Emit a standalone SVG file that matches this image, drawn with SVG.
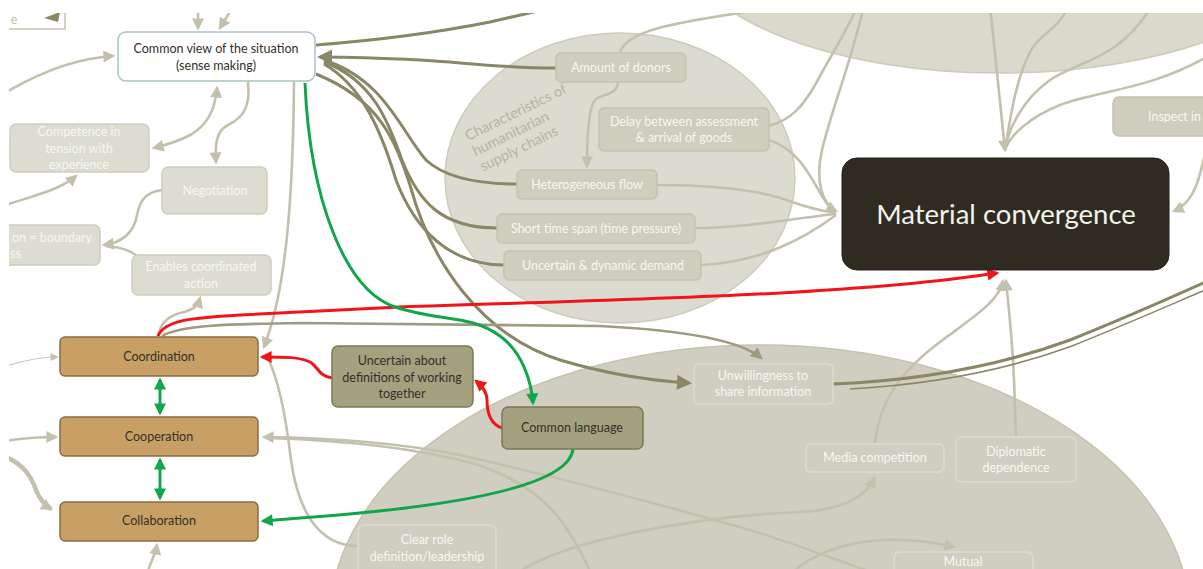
<svg xmlns="http://www.w3.org/2000/svg" width="1203" height="569" viewBox="0 0 1203 569">
  <defs>
    <clipPath id="frame"><rect x="9" y="13" width="1194" height="556"/></clipPath>
    <marker id="ah-lt" viewBox="0 0 10 10" refX="8" refY="5" markerWidth="13" markerHeight="12" markerUnits="userSpaceOnUse" orient="auto-start-reverse"><path d="M0,0 L10,5 L0,10 z" fill="#c3c1ad"/></marker>
    <marker id="ah-lt-s" viewBox="0 0 10 10" refX="8" refY="5" markerWidth="9" markerHeight="8" markerUnits="userSpaceOnUse" orient="auto"><path d="M0,0 L10,5 L0,10 z" fill="#c3c1ad"/></marker>
    <marker id="ah-dk" viewBox="0 0 10 10" refX="8" refY="5" markerWidth="17" markerHeight="15" markerUnits="userSpaceOnUse" orient="auto"><path d="M0,0 L10,5 L0,10 z" fill="#8a8766"/></marker>
    <marker id="ah-md" viewBox="0 0 10 10" refX="8" refY="5" markerWidth="14" markerHeight="12" markerUnits="userSpaceOnUse" orient="auto"><path d="M0,0 L10,5 L0,10 z" fill="#9e9b7f"/></marker>
    <marker id="ah-red" viewBox="0 0 10 10" refX="8" refY="5" markerWidth="14" markerHeight="12" markerUnits="userSpaceOnUse" orient="auto"><path d="M0,0 L10,5 L0,10 z" fill="#f2141a"/></marker>
    <marker id="ah-grn" viewBox="0 0 10 10" refX="8" refY="5" markerWidth="14" markerHeight="12" markerUnits="userSpaceOnUse" orient="auto-start-reverse"><path d="M0,0 L10,5 L0,10 z" fill="#12a64c"/></marker>
  </defs>
  <style>
    text { font-family: Lato, "Liberation Sans", sans-serif; font-size: 12.5px; text-anchor: middle; }
    .lt { fill: #dddcd1; stroke: #cfcdbf; stroke-width: 1.5; }
    .li { fill: #cfcdbd; stroke: #c4c2b0; stroke-width: 1.5; }
    .lb { fill: #d0cec0; stroke: #dcdbd0; stroke-width: 1.5; }
    .lt-t { fill: #f7f7f2; }
    .brown { fill: #c8a065; stroke: #8c6d3f; stroke-width: 1.5; }
    .olive { fill: #a4a17f; stroke: #7b7857; stroke-width: 1.5; }
    .dark-t { fill: #33302a; }
    .c-lt { fill: none; stroke: #c3c1ad; stroke-width: 2.6; }
    .c-dk { fill: none; stroke: #8a8766; stroke-width: 3; }
    .c-red { fill: none; stroke: #f2141a; stroke-width: 3; }
    .c-grn { fill: none; stroke: #12a64c; stroke-width: 3; }
    .cluster-t { text-anchor: start; font-size: 14.5px; }
  </style>
  <rect width="1203" height="569" fill="#ffffff"/>
  <g clip-path="url(#frame)">
    <!-- cluster backgrounds -->
    <g id="clusters">
      <ellipse cx="1000" cy="-60" rx="318" ry="133" fill="#dad9cc" stroke="#cdcbbb" stroke-width="1.5"/>
      <ellipse cx="620" cy="178" rx="175" ry="145" fill="#dcdbcf" stroke="#cdcbbb" stroke-width="1.5"/>
      <ellipse cx="760" cy="620" rx="430" ry="275" fill="#d0cec0" stroke="#c4c2b0" stroke-width="1.5"/>
      <g transform="translate(468,141) rotate(-26)" fill="#b6b49d">
        <text x="0" y="0" class="cluster-t">Characteristics of</text>
        <text x="0" y="17" class="cluster-t">humanitarian</text>
        <text x="0" y="34" class="cluster-t">supply chains</text>
      </g>
    </g>

    <!-- connectors -->
    <g id="connectors">
      <!-- light grey links -->
      <path class="c-lt" d="M198,5 L198,28" marker-end="url(#ah-lt)"/>
      <path class="c-lt" d="M234,5 L220,28" marker-end="url(#ah-lt)"/>
      <path class="c-lt" d="M3,94 C40,72 78,58 113,56" marker-end="url(#ah-lt)"/>
      <path class="c-lt" d="M217,88 C215,112 206,125 192,134 C178,142 166,145 154,148" marker-start="url(#ah-lt)" marker-end="url(#ah-lt)"/>
      <path class="c-lt" d="M248,82 C251,108 242,118 228,125 C216,131 215,145 216,162" marker-end="url(#ah-lt)"/>
      <path class="c-lt" d="M3,206 C32,196 60,190 76,176" marker-end="url(#ah-lt)"/>
      <path class="c-lt" d="M162,190 C146,192 140,200 137,215 C134,234 120,243 104,245" marker-end="url(#ah-lt)"/>
      <path class="c-lt" d="M137,256 C130,250 120,247 106,246"/>
      <path class="c-lt" d="M158,336 C161,321 170,315 184,312 C195,309 198,305 200,298" marker-end="url(#ah-lt)"/>
      <path class="c-lt" d="M294,82 C293,200 286,290 264,347" marker-end="url(#ah-lt)"/>
      <path class="c-lt" d="M358,546 C318,546 298,510 291,460 C285,410 278,378 266,354"/>
      <path class="c-lt" d="M880,575 C830,558 790,542 750,530 C680,510 560,478 460,455 C410,445 340,438 264,437" marker-end="url(#ah-lt)"/>
      <path class="c-lt" d="M592,575 C568,525 548,488 475,464 C410,446 330,440 268,438"/>
      <path class="c-lt" d="M3,441 C25,438 40,437 56,437" marker-end="url(#ah-lt)"/>
      <path fill="none" stroke="#c9c8b7" stroke-width="1.2" d="M3,367 C25,360 40,357 57,357" marker-end="url(#ah-lt-s)"/>
      <path fill="none" stroke="#c3c1ad" stroke-width="4.5" d="M3,456 C24,463 32,478 36,490 C40,500 46,506 51,509" marker-end="url(#ah-lt)"/>
      <path class="c-lt" d="M147,575 C150,562 155,556 157,545" marker-end="url(#ah-lt)"/>
      <path class="c-lt" d="M618,82 C618,95 601,94 595,100 C588,108 587,140 587,166" marker-end="url(#ah-lt)"/>
      <path class="c-lt" d="M620,53 C625,30 680,22 745,12"/>
      <path class="c-lt" d="M769,126 C790,120 802,108 815,85 C833,52 850,25 858,5"/>
      <path class="c-lt" d="M864,5 C852,60 832,108 822,150 C815,180 822,204 836,211" marker-end="url(#ah-lt)"/>
      <path class="c-lt" d="M769,140 C800,150 812,180 822,196 C827,204 830,209 836,212"/>
      <path class="c-lt" d="M657,185 C720,185 762,190 792,202 C812,209 822,211 836,213"/>
      <path class="c-lt" d="M695,228 C745,228 795,218 836,214"/>
      <path class="c-lt" d="M701,265 C762,262 805,238 836,215"/>
      <path class="c-lt" d="M990,5 C995,50 1000,100 1005,150" marker-end="url(#ah-lt)"/>
      <path class="c-lt" d="M1068,5 C1060,30 1040,32 1030,52 C1015,82 1010,120 1005,150"/>
      <path class="c-lt" d="M1152,5 C1120,60 1080,60 1050,80 C1022,100 1008,130 1005,150"/>
      <path class="c-lt" d="M1210,55 C1150,90 1100,90 1060,105 C1030,117 1010,135 1005,150"/>
      <path class="c-lt" d="M1210,130 C1200,180 1195,202 1174,211" marker-end="url(#ah-lt)"/>
      <path class="c-lt" d="M875,443 C880,400 900,372 940,342 C975,316 1000,300 1003,281" marker-end="url(#ah-lt)"/>
      <path class="c-lt" d="M1016,436 L1014,380 C1012,332 1008,302 1006,281" marker-end="url(#ah-lt)"/>
      <path class="c-lt" d="M515,575 C560,540 700,516 800,512 C845,510 867,495 874,478" marker-end="url(#ah-lt)"/>
      <path class="c-lt" d="M790,575 C820,545 880,530 954,547" marker-end="url(#ah-lt)"/>

      <!-- dark olive links -->
      <path class="c-dk" d="M316,45 C380,40 440,32 490,22 C512,17 525,14 542,10"/>
      <path class="c-dk" d="M556,68 C500,68 460,62 420,60 C380,58 350,57 320,57" marker-end="url(#ah-dk)"/>
      <path class="c-dk" d="M517,184 C470,184 442,175 426,160 C400,130 385,80 324,60"/>
      <path class="c-dk" d="M497,228 C440,228 418,200 402,160 C388,120 372,80 324,62"/>
      <path class="c-dk" d="M504,265 C450,265 415,230 396,180 C381,130 362,86 324,64"/>
      <path class="c-dk" d="M316,74 C380,100 395,140 410,185 C430,260 480,335 560,360 C600,372 640,380 689,383" marker-end="url(#ah-dk)"/>
      <path fill="none" stroke="#9e9b7f" stroke-width="2.6" d="M162,336 C180,325 230,324 300,323 L600,326 C680,330 740,340 761,358" marker-end="url(#ah-md)"/>
      <path class="c-dk" d="M833,384 C930,380 1010,362 1070,340 C1120,320 1170,298 1210,280"/>
      <path fill="none" stroke="#8a8766" stroke-width="1.6" d="M850,389 C940,384 1012,368 1072,346 C1122,326 1170,305 1210,288"/>

      <!-- red links -->
      <path class="c-red" d="M158,336 C165,320 190,318 240,315 L400,307 C600,300 850,296 997,273" marker-end="url(#ah-red)"/>
      <path class="c-red" d="M332,378 C318,376 318,366 310,362 C300,357 285,357 262,357" marker-end="url(#ah-red)"/>
      <path class="c-red" d="M502,428 C490,424 487,412 487,400 C487,392 482,386 476,381" marker-end="url(#ah-red)"/>

      <!-- green links -->
      <path class="c-grn" d="M305,83 C310,200 345,290 395,307 C440,322 470,314 500,336 C522,352 531,380 533,403" marker-end="url(#ah-grn)"/>
      <path class="c-grn" d="M160,380 L160,413" marker-start="url(#ah-grn)" marker-end="url(#ah-grn)"/>
      <path class="c-grn" d="M160,460 L160,498" marker-start="url(#ah-grn)" marker-end="url(#ah-grn)"/>
      <path class="c-grn" d="M573,449 C570,482 480,505 300,518 L263,521" marker-end="url(#ah-grn)"/>
    </g>

    <!-- nodes -->
    <g id="n-edge-box">
      <rect x="-40" y="-10" width="105" height="39" fill="#ffffff" stroke="#c3c1ad" stroke-width="1.5"/>
      <text x="14" y="24" style="fill:#c3c1ad">e</text>
      <polygon points="60,12 44,18 58,22" fill="#8a8766"/>
    </g>
    <g id="n-common-view">
      <rect x="118" y="32" width="197" height="49" rx="8" fill="#ffffff" stroke="#a9c3c3" stroke-width="1.5"/>
      <text x="216" y="53" class="dark-t">Common view of the situation</text>
      <text x="216" y="70" class="dark-t">(sense making)</text>
    </g>
    <g id="n-competence">
      <rect class="lt" x="10" y="124" width="139" height="48" rx="6"/>
      <text x="79" y="136" class="lt-t">Competence in</text>
      <text x="79" y="153" class="lt-t">tension with</text>
      <text x="79" y="169" class="lt-t">experience</text>
    </g>
    <g id="n-negotiation">
      <rect class="lt" x="162" y="167" width="105" height="47" rx="6"/>
      <text x="215" y="195" class="lt-t">Negotiation</text>
    </g>
    <g id="n-boundary">
      <rect class="lt" x="-60" y="225" width="160" height="40" rx="6"/>
      <text x="12" y="242" class="lt-t" style="text-anchor:start">on = boundary</text>
      <text x="10" y="258" class="lt-t" style="text-anchor:start">ss</text>
    </g>
    <g id="n-enables">
      <rect class="lt" x="132" y="255" width="139" height="40" rx="6"/>
      <text x="201" y="271" class="lt-t">Enables coordinated</text>
      <text x="201" y="288" class="lt-t">action</text>
    </g>
    <g id="n-coordination">
      <rect class="brown" x="60" y="337" width="198" height="39" rx="5"/>
      <text x="159" y="361" class="dark-t">Coordination</text>
    </g>
    <g id="n-cooperation">
      <rect class="brown" x="60" y="417" width="198" height="39" rx="5"/>
      <text x="159" y="441" class="dark-t">Cooperation</text>
    </g>
    <g id="n-collaboration">
      <rect class="brown" x="60" y="502" width="198" height="39" rx="5"/>
      <text x="159" y="525" class="dark-t">Collaboration</text>
    </g>
    <g id="n-uncertain-defs">
      <rect class="olive" x="332" y="346" width="141" height="61" rx="6"/>
      <text x="402" y="365" class="dark-t">Uncertain about</text>
      <text x="402" y="382" class="dark-t">definitions of working</text>
      <text x="402" y="398" class="dark-t">together</text>
    </g>
    <g id="n-common-language">
      <rect class="olive" x="502" y="407" width="141" height="42" rx="6"/>
      <text x="572" y="432" class="dark-t">Common language</text>
    </g>
    <g id="n-donors">
      <rect class="li" x="556" y="53" width="130" height="29" rx="5"/>
      <text x="621" y="72" class="lt-t">Amount of donors</text>
    </g>
    <g id="n-delay">
      <rect class="li" x="599" y="108" width="170" height="43" rx="5"/>
      <text x="684" y="126" class="lt-t">Delay between assessment</text>
      <text x="684" y="142" class="lt-t">&amp; arrival of goods</text>
    </g>
    <g id="n-heterogeneous">
      <rect class="li" x="517" y="170" width="140" height="29" rx="5"/>
      <text x="587" y="189" class="lt-t">Heterogeneous flow</text>
    </g>
    <g id="n-short-time">
      <rect class="li" x="497" y="214" width="198" height="29" rx="5"/>
      <text x="596" y="233" class="lt-t">Short time span (time pressure)</text>
    </g>
    <g id="n-dynamic-demand">
      <rect class="li" x="504" y="251" width="197" height="29" rx="5"/>
      <text x="603" y="270" class="lt-t">Uncertain &amp; dynamic demand</text>
    </g>
    <g id="n-material-convergence">
      <rect x="842" y="158" width="327" height="112" rx="15" fill="#2f2b20" stroke="#24211a" stroke-width="1"/>
      <text x="1006" y="224" style="font-size:27.5px;fill:#f2f2ee">Material convergence</text>
    </g>
    <g id="n-inspect">
      <rect class="li" x="1113" y="97" width="120" height="39" rx="6"/>
      <text x="1148" y="121" class="lt-t" style="text-anchor:start">Inspect in</text>
    </g>
    <g id="n-unwillingness">
      <rect class="lb" x="694" y="364" width="139" height="40" rx="5"/>
      <text x="763" y="380" class="lt-t">Unwillingness to</text>
      <text x="763" y="396" class="lt-t">share information</text>
    </g>
    <g id="n-media">
      <rect class="lb" x="806" y="444" width="138" height="28" rx="5"/>
      <text x="875" y="462" class="lt-t">Media competition</text>
    </g>
    <g id="n-diplomatic">
      <rect class="lb" x="956" y="437" width="120" height="45" rx="6"/>
      <text x="1016" y="456" class="lt-t">Diplomatic</text>
      <text x="1016" y="472" class="lt-t">dependence</text>
    </g>
    <g id="n-clear-role">
      <rect class="lb" x="358" y="525" width="138" height="60" rx="6"/>
      <text x="427" y="544" class="lt-t">Clear role</text>
      <text x="427" y="561" class="lt-t">definition/leadership</text>
    </g>
    <g id="n-mutual">
      <rect class="lb" x="894" y="552" width="139" height="40" rx="6"/>
      <text x="963" y="566" class="lt-t">Mutual</text>
    </g>
  </g>
</svg>
